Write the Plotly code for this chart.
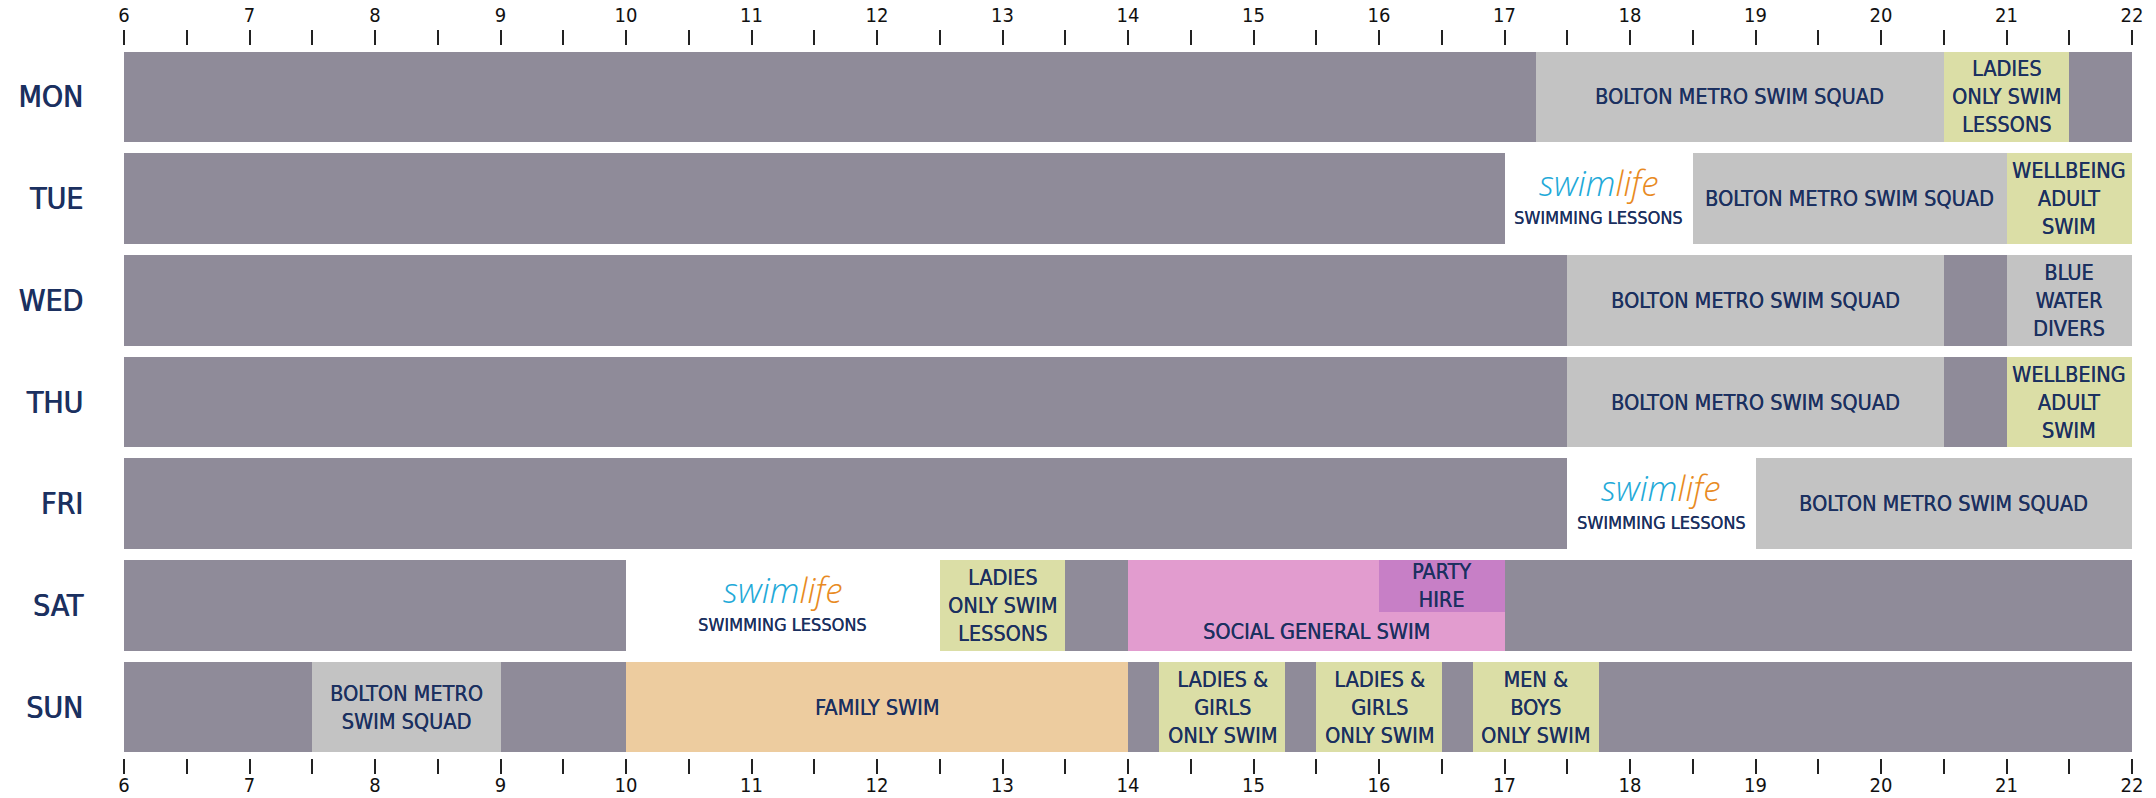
import plotly.graph_objects as go

# ---------------- data ----------------
days = ["MON", "TUE", "WED", "THU", "FRI", "SAT", "SUN"]
hour_ticks = list(range(6, 23))

# grey background blocks (pool otherwise in use)
bg_day = ["MON", "TUE", "WED", "THU", "FRI", "SAT", "SAT", "SUN"]
bg_start = [6, 6, 6, 6, 6, 6, 12.5, 6]
bg_end = [22, 17, 22, 22, 17.5, 10, 22, 22]

# programmed sessions
ev_day = ["MON", "MON", "TUE", "TUE", "WED", "WED", "THU", "THU", "FRI",
          "SAT", "SAT", "SAT", "SUN", "SUN", "SUN", "SUN", "SUN"]
ev_start = [17.25, 20.5, 18.5, 21, 17.5, 21, 17.5, 21, 19,
            12.5, 14, 16, 7.5, 10, 14.25, 15.5, 16.75]
ev_end = [20.5, 21.5, 21, 22, 20.5, 22, 20.5, 22, 22,
          13.5, 17, 17, 9, 14, 15.25, 16.5, 17.75]
ev_kind = ["squad", "ladies", "squad", "wellbeing", "squad", "divers", "squad", "wellbeing", "squad",
           "ladies", "social", "party", "squad", "family", "ladies", "ladies", "men"]
ev_label = ["BOLTON METRO SWIM SQUAD", "LADIES<br>ONLY SWIM<br>LESSONS",
            "BOLTON METRO SWIM SQUAD", "WELLBEING<br>ADULT<br>SWIM",
            "BOLTON METRO SWIM SQUAD", "BLUE<br>WATER<br>DIVERS",
            "BOLTON METRO SWIM SQUAD", "WELLBEING<br>ADULT<br>SWIM",
            "BOLTON METRO SWIM SQUAD",
            "LADIES<br>ONLY SWIM<br>LESSONS", "SOCIAL GENERAL SWIM", "PARTY<br>HIRE",
            "BOLTON METRO<br>SWIM SQUAD", "FAMILY SWIM",
            "LADIES &amp;<br>GIRLS<br>ONLY SWIM", "LADIES &amp;<br>GIRLS<br>ONLY SWIM",
            "MEN &amp;<br>BOYS<br>ONLY SWIM"]

# swimlife swimming lessons (white blocks)
sl_day = ["TUE", "FRI", "SAT"]
sl_start = [17, 17.5, 10]
sl_end = [18.5, 19, 12.5]

# ---------------- styles ----------------
kind_color = {
    "squad": "#c3c3c3",
    "divers": "#c3c3c3",
    "ladies": "#dbdea6",
    "wellbeing": "#dbdea6",
    "men": "#dbdea6",
    "family": "#edcc9f",
    "social": "#e29ccf",
    "party": "#c77fc6",
}
BG = "#8f8b99"
NAVY = "#1b3060"
COND = "DejaVu Sans Condensed, Liberation Sans, sans-serif"
BAR_W = 0.89
PARTY_FRAC = 0.57
THICK = "0.8px 0px 0px #1b3060"
TXT_FONT = dict(family=COND, size=21.5, color=NAVY, shadow="0.3px 0px 0px #1b3060")

day_idx = {d: i for i, d in enumerate(days)}

fig = go.Figure()

# background on the bottom axis
fig.add_trace(go.Bar(
    orientation="h",
    y=[day_idx[d] for d in bg_day],
    base=bg_start,
    x=[e - s for s, e in zip(bg_start, bg_end)],
    width=BAR_W,
    marker=dict(color=BG, line=dict(width=0)),
    hoverinfo="skip", showlegend=False,
    xaxis="x", yaxis="y",
))

# sessions on the (overlaying) top axis so they sit above the background
for kind in ["squad", "divers", "ladies", "wellbeing", "men", "family", "social", "party"]:
    idx = [i for i, k in enumerate(ev_kind) if k == kind]
    if not idx:
        continue
    ys = [day_idx[ev_day[i]] for i in idx]
    kw = dict(width=BAR_W)
    if kind == "party":
        kw = dict(width=BAR_W * PARTY_FRAC, offset=-BAR_W / 2)
    fig.add_trace(go.Bar(
        orientation="h",
        y=ys,
        base=[ev_start[i] for i in idx],
        x=[ev_end[i] - ev_start[i] for i in idx],
        marker=dict(color=kind_color[kind], line=dict(width=0)),
        hoverinfo="skip", showlegend=False,
        xaxis="x2", yaxis="y",
        **kw,
    ))

annotations = []
for d, s, e, k, lab in zip(ev_day, ev_start, ev_end, ev_kind, ev_label):
    y = day_idx[d]
    if k == "party":
        y = y - BAR_W / 2 + BAR_W * PARTY_FRAC / 2
    elif k == "social":
        top = y - BAR_W / 2 + BAR_W * PARTY_FRAC
        y = (top + y + BAR_W / 2) / 2
    annotations.append(dict(
        x=(s + e) / 2, y=y, xref="x", yref="y", text=lab, showarrow=False,
        font=TXT_FONT, align="center", xanchor="center", yanchor="middle",
    ))

for d, s, e in zip(sl_day, sl_start, sl_end):
    y = day_idx[d]
    annotations.append(dict(
        x=(s + e) / 2, y=y, xref="x", yref="y", showarrow=False,
        text="<span style='color:#22a9d8'>swim</span><span style='color:#e88a22'>life</span>",
        font=dict(family="Open Sans", size=35, style="italic", weight=300),
        xanchor="center", yanchor="middle", yshift=16,
    ))
    annotations.append(dict(
        x=(s + e) / 2, y=y, xref="x", yref="y", showarrow=False,
        text="SWIMMING LESSONS",
        font=dict(family=COND, size=18, color=NAVY, shadow="0.3px 0px 0px #1b3060"),
        xanchor="center", yanchor="middle", yshift=-19,
    ))

axis_common = dict(
    range=[6, 22], tickvals=hour_ticks, ticktext=[str(h) for h in hour_ticks],
    ticks="outside", ticklen=15, tickwidth=1.5, tickcolor="#222",
    minor=dict(ticks="outside", ticklen=15, tickwidth=1.5, tickcolor="#222",
               tickvals=[h + 0.5 for h in hour_ticks[:-1]]),
    tickfont=dict(family=COND, size=20, color="#111"),
    showgrid=False, zeroline=False, showline=False, fixedrange=True,
    automargin=False,
)

fig.update_layout(
    template="none",
    width=2156, height=798,
    margin=dict(l=124, r=24, t=46, b=40),
    paper_bgcolor="white", plot_bgcolor="white",
    barmode="overlay", bargap=0,
    xaxis=dict(side="bottom", anchor="y", ticklabelstandoff=-6, **axis_common),
    xaxis2=dict(side="top", overlaying="x", anchor="y", **axis_common),
    yaxis=dict(
        range=[6.5, -0.5], tickvals=list(range(len(days))), ticktext=days,
        ticks="", ticklabelstandoff=40, automargin=False,
        tickfont=dict(family=COND, size=30, color=NAVY, shadow=THICK),
        showgrid=False, zeroline=False, showline=False, fixedrange=True,
    ),
    annotations=annotations,
    showlegend=False,
)

fig.write_html(
    "out.html",
    config={"displayModeBar": False},
    post_script="document.body.style.margin='0';document.body.style.overflow='hidden';",
)
